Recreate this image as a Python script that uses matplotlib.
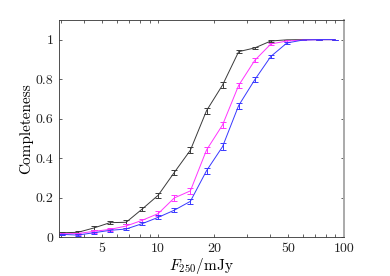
import numpy as np
import matplotlib
matplotlib.use("Agg")
import matplotlib.pyplot as plt
from matplotlib.ticker import FixedLocator, FixedFormatter, NullFormatter

plt.rcParams["font.family"] = "serif"
plt.rcParams["font.serif"] = ["cmr10"]
plt.rcParams["mathtext.fontset"] = "cm"
plt.rcParams["axes.formatter.use_mathtext"] = True

# flux bins (mJy)
flux = [3.02, 3.69, 4.5, 5.5, 6.72, 8.2, 10.0, 12.2, 14.9, 18.2,
        22.2, 27.1, 33.1, 40.4, 49.3, 60.2, 73.5, 89.7]

comp_black = [0.022, 0.024, 0.046, 0.073, 0.075, 0.142, 0.212, 0.327, 0.440, 0.640,
              0.770, 0.939, 0.958, 0.993, 0.999, 1.0, 1.0, 1.0]
err_black = [0.006, 0.006, 0.008, 0.009, 0.009, 0.011, 0.013, 0.015, 0.016, 0.015,
             0.013, 0.007, 0.006, 0.003, 0.001, 0.0, 0.0, 0.0]

comp_mag = [0.017, 0.018, 0.029, 0.039, 0.056, 0.085, 0.119, 0.198, 0.234, 0.441,
            0.568, 0.768, 0.895, 0.978, 0.993, 0.998, 1.0, 1.0]
err_mag = [0.005, 0.005, 0.006, 0.007, 0.008, 0.009, 0.011, 0.013, 0.014, 0.016,
           0.016, 0.013, 0.010, 0.005, 0.003, 0.001, 0.0, 0.0]

comp_blue = [0.014, 0.010, 0.022, 0.034, 0.041, 0.068, 0.100, 0.136, 0.181, 0.336,
             0.458, 0.666, 0.797, 0.915, 0.983, 0.998, 1.0, 1.0]
err_blue = [0.004, 0.004, 0.005, 0.006, 0.007, 0.008, 0.010, 0.011, 0.013, 0.015,
            0.016, 0.015, 0.013, 0.009, 0.004, 0.001, 0.0, 0.0]

xticks_major = [5, 10, 20, 50, 100]
xticks_minor = [3, 4, 6, 7, 8, 9, 30, 40, 60, 70, 80, 90]
yticks = [0, 0.2, 0.4, 0.6, 0.8, 1]
ytick_labels = ["0", "0.2", "0.4", "0.6", "0.8", "1"]

fig = plt.figure(figsize=(3.9, 2.76), dpi=100)
ax = fig.add_axes([0.151, 0.141, 0.731, 0.787])

series = [
    (comp_black, err_black, "#3a3a3a"),
    (comp_mag, err_mag, "#ff33ff"),
    (comp_blue, err_blue, "#3838ff"),
]
for y, e, c in series:
    ax.errorbar(flux, y, yerr=e, color=c, lw=0.7, elinewidth=0.7,
                capsize=2.0, capthick=0.7)

ax.set_xscale("log")
ax.set_xlim(2.92, 100)
ax.set_ylim(0, 1.1)

ax.xaxis.set_major_locator(FixedLocator(xticks_major))
ax.xaxis.set_major_formatter(FixedFormatter([str(t) for t in xticks_major]))
ax.xaxis.set_minor_locator(FixedLocator(xticks_minor))
ax.xaxis.set_minor_formatter(NullFormatter())
ax.set_yticks(yticks)
ax.set_yticklabels(ytick_labels)

ax.tick_params(which="both", direction="in", top=True, right=True,
               length=2.5, width=0.5, labelsize=10, colors="#222222", pad=4)

for s in ["left", "top", "bottom"]:
    ax.spines[s].set_linewidth(0.6)
    ax.spines[s].set_color("#333333")
ax.spines["right"].set_linewidth(1.4)
ax.spines["right"].set_color("#aaaaaa")

ax.set_xlabel(r"$F_{250}/\mathrm{mJy}$", fontsize=11, labelpad=1)
ax.set_ylabel("Completeness", fontsize=11, labelpad=2)

fig.savefig("out.png", dpi=100)
